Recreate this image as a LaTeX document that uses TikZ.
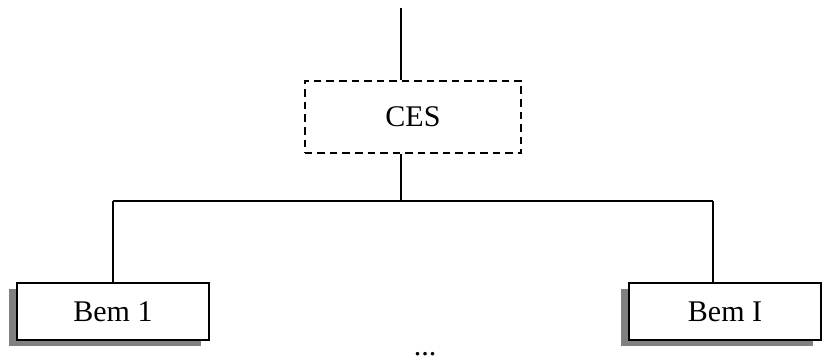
\documentclass[tikz,border=0pt]{standalone}
\usepackage{fontspec}
\setmainfont{Liberation Serif}
\usetikzlibrary{shadows}

\tikzset{
  ces/.style={draw, dash pattern=on 3pt off 2pt, line width=.7pt,
    minimum width=86.4pt, minimum height=28.8pt, inner sep=0pt},
  bem/.style={draw, fill=white, line width=1pt, minimum width=76.8pt,
    minimum height=22.8pt, inner sep=0pt,
    drop shadow={shadow xshift=-3.2pt, shadow yshift=-2.4pt, fill=black!50, opacity=1}},
}

\begin{document}
\begin{tikzpicture}[x=.4pt, y=-.4pt, line width=.6pt, font=\fontsize{12}{14}\selectfont]
  \clip (0,0) rectangle (822,360);
  \node[ces] (ces) at (413,117) {CES};
  \node[bem] (bem1) at (113,311.5) {Bem 1};
  \node[bem] (bemI) at (725,311.5) {Bem I};
  \node[anchor=base] (dots) at (425,355) {...};
  \coordinate (top) at (401,8);
  \coordinate (mid) at (401,201);
  \coordinate (left) at (113,201);
  \coordinate (right) at (713,201);
  \draw (top) -- (top |- ces.north);
  \draw (mid |- ces.south) -- (mid);
  \draw (left) -- (right);
  \draw (left) -- (bem1.north);
  \draw (right) -- (right |- bemI.north);
\end{tikzpicture}
\end{document}
